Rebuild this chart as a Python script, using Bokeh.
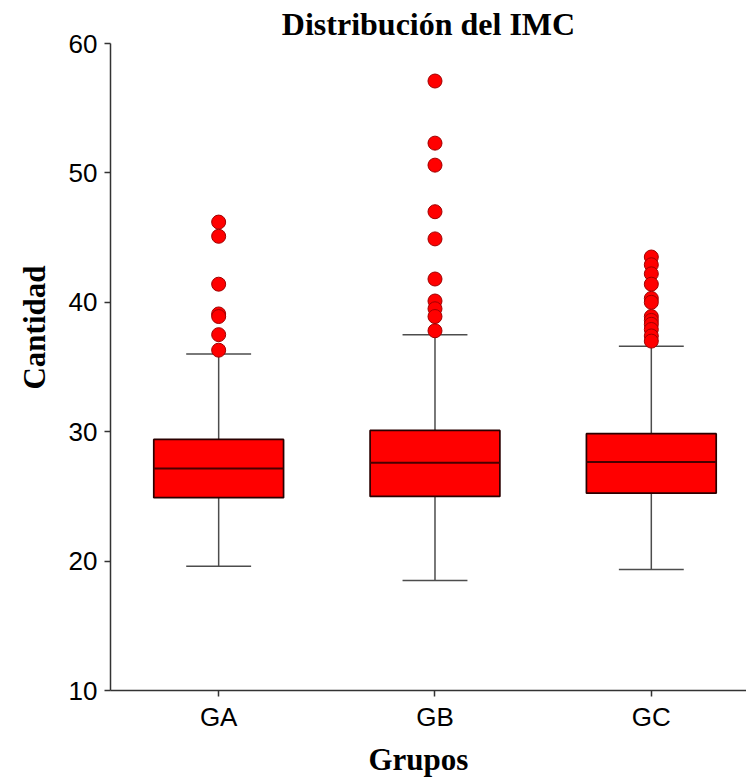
import math
from bokeh.plotting import figure
from bokeh.models import Range1d, FixedTicker, ColumnDataSource, Title
from bokeh.embed import file_html
from bokeh.resources import INLINE

# ---- data ----
groups = ["GA", "GB", "GC"]
lower_whisker = [19.6, 18.5, 19.35]
q1 = [24.9, 25.0, 25.25]
median = [27.15, 27.6, 27.65]
q3 = [29.4, 30.1, 29.85]
upper_whisker = [36.0, 37.5, 36.6]
outliers_GA = [46.2, 45.1, 41.4, 39.1, 38.9, 37.5, 36.3]
outliers_GB = [57.1, 52.3, 50.6, 47.0, 44.9, 41.8, 40.1, 39.5, 38.9, 37.8]
outliers_GC = [43.5, 42.9, 42.2, 41.4, 40.3, 40.0, 38.9, 38.6, 38.3, 37.9, 37.4, 37.0]
y_ticks = [10, 20, 30, 40, 50, 60]

title_text = "Distribución del IMC"
x_label = "Grupos"
y_label = "Cantidad"

# positions of categories
pos = [i + 1 for i in range(len(groups))]
box_w = 0.6
cap_w = 0.3

p = figure(width=746, height=782, output_backend="svg", toolbar_location=None,
           x_range=Range1d(0.5, 3.44), y_range=Range1d(10, 60),
           min_border_left=110, min_border_right=0, min_border_top=43,
           min_border_bottom=92)
p.outline_line_color = None
p.background_fill_color = "white"
p.border_fill_color = "white"
p.grid.visible = False

p.title = Title(text=title_text, align="center", text_font="Liberation Serif",
                text_font_size="32px", text_font_style="bold", text_color="black",
                standoff=4)

axis_color = "#333333"
for ax in (p.xaxis[0], p.yaxis[0]):
    ax.axis_line_color = axis_color
    ax.axis_line_width = 1.5
    ax.major_tick_line_color = axis_color
    ax.major_tick_line_width = 1.5
    ax.major_tick_out = 6
    ax.major_tick_in = 0
    ax.minor_tick_line_color = None
    ax.major_label_text_font = "Liberation Sans"
    ax.major_label_text_font_size = "26px"
    ax.major_label_text_color = "black"

p.yaxis.ticker = FixedTicker(ticks=y_ticks)
p.yaxis.major_label_standoff = 7
p.xaxis.ticker = FixedTicker(ticks=pos)
p.xaxis.major_label_overrides = {pp: g for pp, g in zip(pos, groups)}
p.xaxis.major_label_standoff = 5

# axis titles as Title annotations (allow offsets like the reference)
p.add_layout(Title(text=y_label, align="right", offset=222, text_font="Liberation Serif",
                   text_font_size="31px", text_font_style="bold", text_color="black",
                   standoff=27), "left")
p.add_layout(Title(text=x_label, align="left", offset=258, text_font="Liberation Serif",
                   text_font_size="31px", text_font_style="bold", text_color="black",
                   standoff=11), "below")

src = ColumnDataSource(dict(x=pos, lo=lower_whisker, q1=q1, med=median, q3=q3, hi=upper_whisker,
                            x0=[x - box_w / 2 for x in pos], x1=[x + box_w / 2 for x in pos],
                            c0=[x - cap_w / 2 for x in pos], c1=[x + cap_w / 2 for x in pos]))

wcol = "#4d4d4d"
# whiskers
p.segment(x0="x", y0="q3", x1="x", y1="hi", source=src, line_color=wcol, line_width=1.5)
p.segment(x0="x", y0="q1", x1="x", y1="lo", source=src, line_color=wcol, line_width=1.5)
p.segment(x0="c0", y0="hi", x1="c1", y1="hi", source=src, line_color=wcol, line_width=1.5)
p.segment(x0="c0", y0="lo", x1="c1", y1="lo", source=src, line_color=wcol, line_width=1.5)
# boxes
p.vbar(x="x", width=box_w, bottom="q1", top="q3", source=src, fill_color="#ff0000",
       line_color="#2a0000", line_width=1.7)
p.segment(x0="x0", y0="med", x1="x1", y1="med", source=src, line_color="#4a0000", line_width=2)

# outliers
ox, oy = [], []
for pp, vals in zip(pos, [outliers_GA, outliers_GB, outliers_GC]):
    ox += [pp] * len(vals)
    oy += vals
p.scatter(x=ox, y=oy, size=14, fill_color="#ff0000", line_color="#a00000", line_width=1)

open("out.html", "w").write(file_html(p, INLINE))
